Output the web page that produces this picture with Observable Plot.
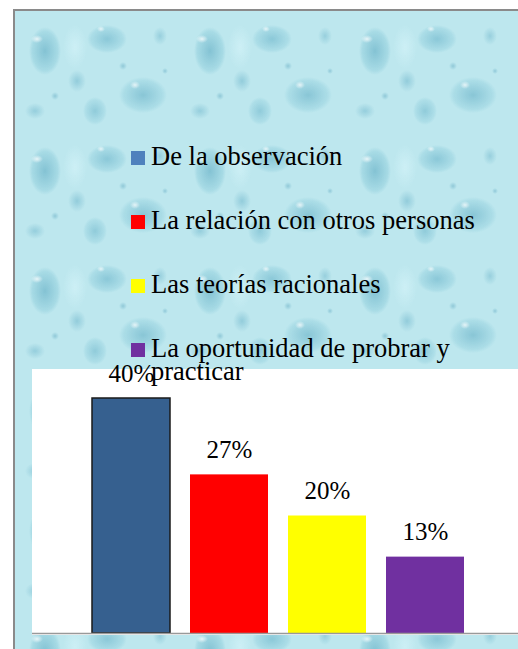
<!DOCTYPE html>
<html>
<head>
<meta charset="utf-8">
<script src="https://cdn.jsdelivr.net/npm/d3@7"></script>
<script src="https://cdn.jsdelivr.net/npm/@observablehq/plot@0.6"></script>
<style>
  html, body { margin: 0; padding: 0; background: #fff; }
  body { width: 518px; height: 649px; position: relative; overflow: hidden; font-family: "Liberation Serif", "Times New Roman", serif; }
  #frame {
    position: absolute; left: 13px; top: 9px; width: 520px; height: 660px;
    border-left: 2px solid #8a8a8a; border-top: 2px solid #8a8a8a;
    background-color: #bde7ee;
    background-image:
      radial-gradient(ellipse 6px 4px at 22px 28px, rgba(255,255,255,.75), transparent),
      radial-gradient(ellipse 16px 24px at 30px 40px, rgba(85,165,190,.55), rgba(125,195,212,.35) 80%, transparent 100%),
      radial-gradient(ellipse 4px 3px at 86px 18px, rgba(255,255,255,.7), transparent),
      radial-gradient(ellipse 20px 14px at 92px 28px, rgba(90,170,195,.50), rgba(130,198,215,.3) 80%, transparent 100%),
      radial-gradient(ellipse 9px 11px at 62px 70px, rgba(95,172,196,.45), transparent 100%),
      radial-gradient(ellipse 5px 4px at 120px 74px, rgba(255,255,255,.7), transparent),
      radial-gradient(ellipse 24px 18px at 128px 84px, rgba(85,165,190,.50), rgba(130,198,215,.3) 80%, transparent 100%),
      radial-gradient(ellipse 10px 8px at 20px 100px, rgba(95,172,196,.42), transparent 100%),
      radial-gradient(ellipse 7px 9px at 145px 25px, rgba(95,172,196,.40), transparent 100%),
      radial-gradient(ellipse 12px 14px at 80px 100px, rgba(90,170,195,.45), rgba(130,198,215,.25) 80%, transparent 100%),
      radial-gradient(ellipse 12px 22px at 60px 36px, rgba(215,245,250,.6), transparent 100%),
      radial-gradient(ellipse 4px 4px at 108px 55px, rgba(90,165,190,.45), transparent 100%),
      radial-gradient(ellipse 4px 4px at 40px 85px, rgba(90,165,190,.45), transparent 100%),
      radial-gradient(ellipse 3px 3px at 150px 60px, rgba(90,165,190,.45), transparent 100%);
    background-size: 165px 120px;
  }
  #chart { position: absolute; left: 32px; top: 369px; }
  #legend { position: absolute; left: 131px; top: 0; z-index: 5; }
  .row { position: absolute; left: 0; width: 380px; height: 50px; }
  .sw { position: absolute; left: 0; top: 6px; width: 14px; height: 14px; }
  .lab { position: absolute; left: 20px; top: 0; font-family: "Liberation Serif", serif; font-size: 26.5px; line-height: 23px; white-space: pre; color: #000; }
</style>
</head>
<body>
<div id="frame"></div>
<div id="chart"></div>
<div id="legend"></div>
<script>
const categories = ["De la observación", "La relación con otros personas", "Las teorías racionales", "La oportunidad de probrar y\npracticar"];
const values = [40, 27, 20, 13];
const valueLabels = ["40%", "27%", "20%", "13%"];
const barColors = ["#36608f", "#ff0000", "#ffff00", "#7030a0"];
const legendColors = ["#4f81bd", "#ff0000", "#ffff00", "#7030a0"];

const data = categories.map((c, i) => ({cat: c, value: values[i], label: valueLabels[i], color: barColors[i]}));

const chart = Plot.plot({
  width: 486,
  height: 266,
  marginTop: 29,
  marginBottom: 2,
  marginLeft: 39,
  marginRight: 32,
  style: {background: "#fff", overflow: "visible", fontFamily: "'Liberation Serif', serif"},
  x: {domain: categories, padding: 0.2, axis: null},
  y: {domain: [0, 40], axis: null},
  marks: [
    Plot.barY(data, {x: "cat", y: "value", fill: "color", stroke: (d, i) => i === 0 ? "#1a1a1a" : "none", strokeWidth: 1.5}),
    Plot.ruleY([0], {stroke: "#999", strokeWidth: 1.5, insetLeft: -39, insetRight: -32}),
    Plot.text(data, {x: "cat", y: "value", text: "label", dy: -25, fontSize: 25, fill: "#000", fontFamily: "'Liberation Serif', serif"})
  ]
});
document.getElementById("chart").appendChild(chart);

const legend = document.getElementById("legend");
const rowTops = [145, 209, 273, 337];
categories.forEach((c, i) => {
  const row = document.createElement("div");
  row.className = "row";
  row.style.top = rowTops[i] + "px";
  const sw = document.createElement("div");
  sw.className = "sw";
  sw.style.background = legendColors[i];
  const lab = document.createElement("div");
  lab.className = "lab";
  lab.textContent = c;
  row.appendChild(sw);
  row.appendChild(lab);
  legend.appendChild(row);
});
</script>
</body>
</html>
